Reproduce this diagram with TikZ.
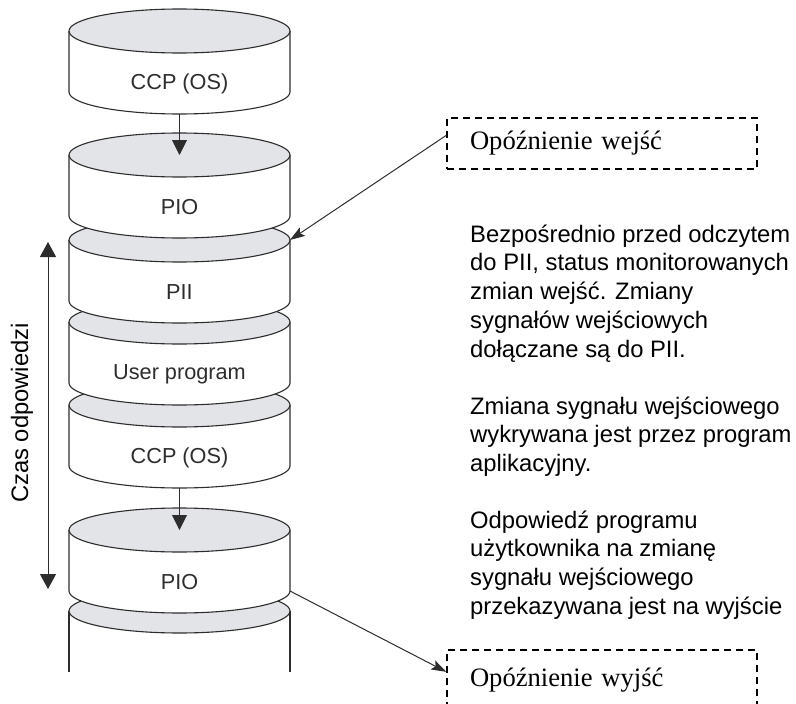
\documentclass[tikz,border=0pt]{standalone}
\usepackage{fontspec}
\setmainfont{Liberation Sans}
\newfontfamily\boxserif{Liberation Serif}
\usetikzlibrary{arrows.meta}
\definecolor{topgray}{RGB}{226,228,232}
\definecolor{inkgray}{RGB}{45,45,45}
\tikzset{
	cylline/.style={draw=inkgray,line width=1.1pt},
	cyllabel/.style={text=inkgray,font=\fontsize{21.7}{26}\selectfont},
	delaybox/.style={draw=black,line width=1.4pt,dash pattern=on 7pt off 5pt,
		minimum width=310pt,text width=264pt,align=left,inner xsep=23pt,
		font=\boxserif\fontsize{26.6}{30}\selectfont},
	notetext/.style={anchor=north west,inner sep=0pt,align=left,
		font=\fontsize{23.8}{28.7}\selectfont}
}
\begin{document}
\begin{tikzpicture}[x=1pt,y=-1pt]
			\useasboundingbox (0,0) rectangle (796,704);
			\def\cylx{179.5}\def\cylrx{110.5}\def\cylry{22}\def\cylh{61}
			% last cylinder, open at the bottom
			\fill[white] (\cylx-\cylrx,611) rectangle (\cylx+\cylrx,672);
			\draw[cylline] (\cylx-\cylrx,611)--(\cylx-\cylrx,672) (\cylx+\cylrx,611)--(\cylx+\cylrx,672);
			\draw[cylline,fill=topgray] (\cylx,611) ellipse [x radius=\cylrx pt,y radius=\cylry pt];
			% the stack, drawn from bottom to top
			\foreach \yt/\lbl/\nm in {530/PIO/pio2,405/CCP (OS)/ccp2,322/User program/user,
				240/PII/pii,155/PIO/pio1,31/CCP (OS)/ccp1}{
				\fill[white] (\cylx-\cylrx,\yt)--++(0,\cylh)
					arc[start angle=180,end angle=360,x radius=\cylrx pt,y radius=\cylry pt]--++(0,-\cylh)--cycle;
				\draw[cylline] (\cylx-\cylrx,\yt)--++(0,\cylh)
					arc[start angle=180,end angle=360,x radius=\cylrx pt,y radius=\cylry pt]--++(0,-\cylh);
				\draw[cylline,fill=topgray] (\cylx,\yt) ellipse [x radius=\cylrx pt,y radius=\cylry pt];
				\node[cyllabel] (\nm) at (\cylx,\yt+\cylry+\cylh/2) {\lbl};
			}
			\coordinate (ccp1-bot) at (\cylx,31+\cylh+\cylry);
			\coordinate (pio1-top) at (\cylx,155);
			\coordinate (ccp2-bot) at (\cylx,405+\cylh+\cylry);
			\coordinate (pio2-top) at (\cylx,530);
			\coordinate (pii-r) at (\cylx+\cylrx,240);
			\coordinate (pio2-r) at (\cylx+\cylrx,591);
			\coordinate (span-top) at (48,242);
			\coordinate (span-bot) at (48,589);
			\draw[inkgray,line width=1pt,-{Triangle[length=15pt,width=15pt]}] (ccp1-bot)--(pio1-top);
			\draw[inkgray,line width=1pt,-{Triangle[length=15pt,width=15pt]}] (ccp2-bot)--(pio2-top);
			\draw[inkgray,line width=1pt,{Triangle[length=15pt,width=16pt]}-{Triangle[length=15pt,width=16pt]}] (span-top)--(span-bot);
			\node[rotate=90,font=\fontsize{23.8}{28}\selectfont] (czas) at (22,413) {Czas odpowiedzi};
			% delay boxes
			\node[delaybox,minimum height=51pt] (inbox) at (602,143.5) {Opóźnienie wejść};
			\node[delaybox,minimum height=60pt] (outbox) at (602,680) {Opóźnienie wyjść};
			\draw[inkgray,line width=1pt,-{Stealth[length=15pt,width=10pt,inset=3pt]}] (inbox.177)--(pii-r);
			\draw[inkgray,line width=1pt,-{Stealth[length=15pt,width=10pt,inset=3pt]}] (pio2-r)--(outbox.177);
			% notes
			\node[notetext] (notea) at (470,224.5) {Bezpośrednio przed odczytem\\do PII, status monitorowanych\\zmian wejść. Zmiany\\sygnałów wejściowych\\dołączane są do PII.};
			\node[notetext] (noteb) at (470,396.5) {Zmiana sygnału wejściowego\\wykrywana jest przez program\\aplikacyjny.};
			\node[notetext] (notec) at (470,510.5) {Odpowiedź programu\\użytkownika na zmianę\\sygnału wejściowego\\przekazywana jest na wyjście};
\end{tikzpicture}
\end{document}
